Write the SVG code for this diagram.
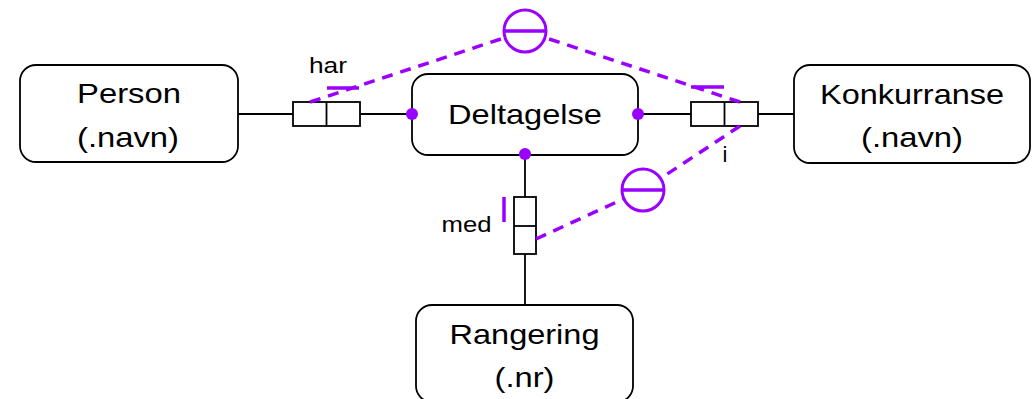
<svg xmlns="http://www.w3.org/2000/svg" width="1035" height="399" viewBox="0 0 1035 399">
<style>
.node{fill:#fff;stroke:#000;stroke-width:1.8}
.t{font-family:"Liberation Sans",Arial,sans-serif;font-size:28.5px;fill:#000;text-anchor:middle}
.lbl{font-family:"Liberation Sans",Arial,sans-serif;font-size:22px;fill:#000;text-anchor:middle}
.ln{stroke:#000;stroke-width:1.8;fill:none}
.role{fill:#fff;stroke:#000;stroke-width:1.8}
.dot{fill:#9900ff}
.cons{stroke:#9900ff;stroke-width:3.5;stroke-dasharray:11 8;fill:none}
.bar{stroke:#9900ff;stroke-width:3.5}
.circ{fill:#fff;stroke:#9900ff;stroke-width:3}
</style>
<g id="connectors">
<line class="ln" x1="238" y1="114" x2="293" y2="114"/>
<line class="ln" x1="360" y1="114" x2="412" y2="114"/>
<line class="ln" x1="638" y1="114" x2="691" y2="114"/>
<line class="ln" x1="758" y1="114" x2="794" y2="114"/>
<line class="ln" x1="525" y1="155" x2="525" y2="197"/>
<line class="ln" x1="525" y1="254" x2="525" y2="305"/>
</g>
<g id="node-person">
<rect class="node" x="20" y="65" width="218" height="97" rx="16"/>
<text class="t" x="129" y="103" textLength="104" lengthAdjust="spacingAndGlyphs">Person</text>
<text class="t" x="128" y="147" textLength="102" lengthAdjust="spacingAndGlyphs">(.navn)</text>
</g>
<g id="node-deltagelse">
<rect class="node" x="412" y="74" width="226" height="81" rx="16"/>
<text class="t" x="525" y="124" textLength="154" lengthAdjust="spacingAndGlyphs">Deltagelse</text>
</g>
<g id="node-konkurranse">
<rect class="node" x="794" y="65" width="236" height="98" rx="16"/>
<text class="t" x="912" y="104" textLength="184" lengthAdjust="spacingAndGlyphs">Konkurranse</text>
<text class="t" x="912" y="147" textLength="102" lengthAdjust="spacingAndGlyphs">(.navn)</text>
</g>
<g id="node-rangering">
<rect class="node" x="416" y="305" width="217" height="97" rx="16"/>
<text class="t" x="524.5" y="344" textLength="150" lengthAdjust="spacingAndGlyphs">Rangering</text>
<text class="t" x="524.5" y="387" textLength="60" lengthAdjust="spacingAndGlyphs">(.nr)</text>
</g>
<g id="role-har">
<rect class="role" x="293" y="102" width="67" height="24"/>
<line class="ln" x1="326.5" y1="102" x2="326.5" y2="126"/>
<text class="lbl" x="328" y="73" textLength="38" lengthAdjust="spacingAndGlyphs">har</text>
</g>
<g id="role-i">
<rect class="role" x="691" y="102" width="67" height="24"/>
<line class="ln" x1="724.5" y1="102" x2="724.5" y2="126"/>
<text class="lbl" x="725" y="162">i</text>
</g>
<g id="role-med">
<rect class="role" x="514" y="197" width="22" height="57"/>
<line class="ln" x1="514" y1="226" x2="536" y2="226"/>
<text class="lbl" x="466.5" y="232" textLength="50" lengthAdjust="spacingAndGlyphs">med</text>
</g>
<g id="dots">
<circle class="dot" cx="412" cy="114" r="6"/>
<circle class="dot" cx="638" cy="114" r="6"/>
<circle class="dot" cx="525" cy="154" r="6"/>
</g>
<g id="constraints">
<line class="cons" x1="310" y1="102" x2="525" y2="31"/>
<line class="cons" x1="740" y1="102" x2="525" y2="31"/>
<line class="cons" x1="740" y1="126" x2="643" y2="190"/>
<line class="cons" x1="536" y1="239" x2="643" y2="190"/>
<line class="bar" x1="327" y1="88" x2="359" y2="88"/>
<line class="bar" x1="691" y1="87" x2="724" y2="87"/>
<line class="bar" x1="504" y1="197" x2="504" y2="222"/>
<g id="exclusion-1">
<circle class="circ" cx="525" cy="31" r="21"/>
<line class="bar" x1="504" y1="31" x2="546" y2="31" stroke-width="4.5"/>
</g>
<g id="exclusion-2">
<circle class="circ" cx="643" cy="190" r="21"/>
<line class="bar" x1="622" y1="190" x2="664" y2="190" stroke-width="4.5"/>
</g>
</g>
</svg>
